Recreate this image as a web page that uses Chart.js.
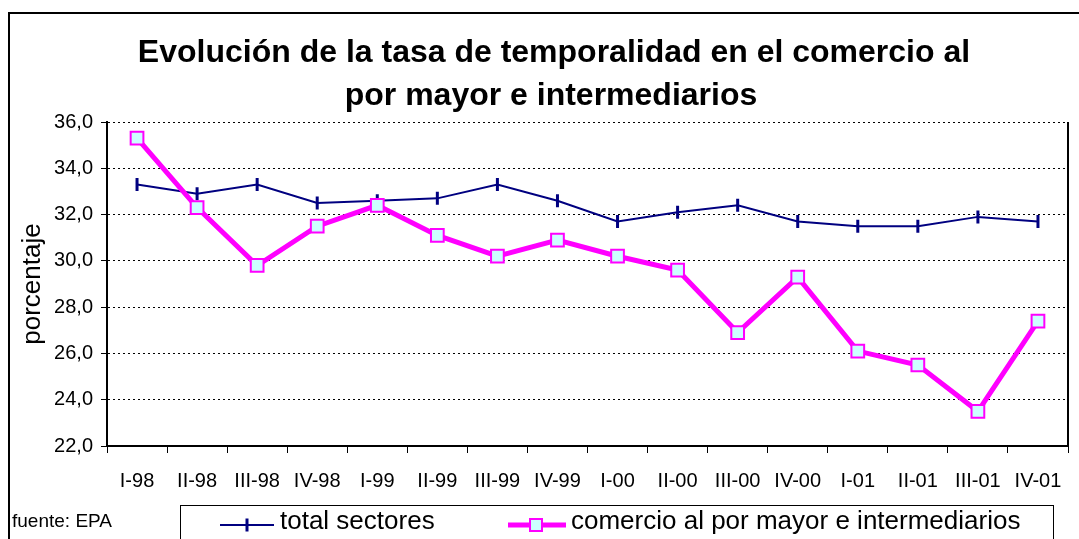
<!DOCTYPE html>
<html>
<head>
<meta charset="utf-8">
<script src="https://cdn.jsdelivr.net/npm/chart.js@4/dist/chart.umd.min.js"></script>
<style>
  html, body { margin: 0; padding: 0; background: #fff; }
  canvas { display: block; }
</style>
</head>
<body>
<canvas id="chart" width="1079" height="539"></canvas>
<script>
const FONT = '"Liberation Sans", Arial, sans-serif';

const quarters = ["I-98", "II-98", "III-98", "IV-98", "I-99", "II-99", "III-99", "IV-99",
    "I-00", "II-00", "III-00", "IV-00", "I-01", "II-01", "III-01", "IV-01"];
const totalSectores = [33.3, 32.9, 33.3, 32.5, 32.6, 32.7, 33.3, 32.6,
    31.7, 32.1, 32.4, 31.7, 31.5, 31.5, 31.9, 31.7];
const comercio = [35.3, 32.3, 29.8, 31.5, 32.4, 31.1, 30.2, 30.9,
    30.2, 29.6, 26.9, 29.3, 26.1, 25.5, 23.5, 27.4];
const titleLines = ["Evolución de la tasa de temporalidad en el comercio al", "por mayor e intermediarios"];
const seriesNames = ["total sectores", "comercio al por mayor e intermediarios"];
const sourceNote = "fuente: EPA";

// title, legend box, source note and frames
const decorPlugin = {
    id: 'decor',
    afterDraw(chart) {
        const ctx = chart.ctx;
        const area = chart.chartArea;
        ctx.save();

        // outer frame
        ctx.strokeStyle = '#000';
        ctx.lineWidth = 2;
        ctx.strokeRect(9, 13, 1080, 540);

        // right edge of plot area
        ctx.beginPath();
        ctx.moveTo(area.right, area.top);
        ctx.lineTo(area.right, area.bottom);
        ctx.stroke();

        // title
        ctx.fillStyle = '#000';
        ctx.font = 'bold 32px ' + FONT;
        ctx.textAlign = 'center';
        ctx.textBaseline = 'middle';
        ctx.fillText(titleLines[0], 554, 53);
        ctx.fillText(titleLines[1], 551, 96);

        // source
        const ly = 522;
        ctx.font = '19px ' + FONT;
        ctx.textAlign = 'left';
        ctx.fillText(sourceNote, 12, ly);

        // legend box
        ctx.lineWidth = 1;
        ctx.strokeRect(180.5, 505.5, 873, 60);
        ctx.font = '26px ' + FONT;
        const ds = chart.data.datasets;

        ctx.strokeStyle = ds[0].borderColor;
        ctx.lineWidth = ds[0].borderWidth;
        ctx.beginPath();
        ctx.moveTo(220, ly + 3);
        ctx.lineTo(274, ly + 3);
        ctx.stroke();
        ctx.lineWidth = ds[0].pointBorderWidth;
        ctx.beginPath();
        ctx.moveTo(247, ly + 3 - 6.5);
        ctx.lineTo(247, ly + 3 + 6.5);
        ctx.stroke();
        ctx.fillText(ds[0].label, 280, ly);

        ctx.strokeStyle = ds[1].borderColor;
        ctx.lineWidth = ds[1].borderWidth;
        ctx.beginPath();
        ctx.moveTo(508, ly + 3);
        ctx.lineTo(566, ly + 3);
        ctx.stroke();
        ctx.fillStyle = ds[1].pointBackgroundColor;
        ctx.strokeStyle = ds[1].pointBorderColor;
        ctx.lineWidth = ds[1].pointBorderWidth;
        ctx.fillRect(530, ly - 3, 12, 12);
        ctx.strokeRect(530, ly - 3, 12, 12);
        ctx.fillStyle = '#000';
        ctx.fillText(ds[1].label, 571, ly);

        ctx.restore();
    }
};

const ctx = document.getElementById('chart').getContext('2d');
const chart = new Chart(ctx, {
    type: 'line',
    data: {
        labels: quarters,
        datasets: [{
            label: seriesNames[0],
            data: totalSectores,
            borderColor: '#000080',
            borderWidth: 2,
            pointStyle: 'line',
            pointRotation: 90,
            pointRadius: 6.5,
            pointBorderWidth: 3,
            pointBorderColor: '#000080',
            pointHoverRadius: 6.5,
            order: 1
        }, {
            label: seriesNames[1],
            data: comercio,
            borderColor: '#FF00FF',
            borderWidth: 5,
            pointStyle: 'rect',
            pointRadius: 9,
            pointHoverRadius: 9,
            pointBackgroundColor: '#CCFFFF',
            pointBorderColor: '#FF00FF',
            pointBorderWidth: 2,
            order: 0
        }]
    },
    options: {
        responsive: false,
        animation: false,
        layout: {
            padding: { left: 0, top: 122, right: 8, bottom: 0 }
        },
        plugins: {
            legend: { display: false },
            title: { display: false },
            tooltip: { enabled: false }
        },
        scales: {
            x: {
                offset: true,
                afterFit: s => { s.height = 93; },
                grid: {
                    offset: true,
                    drawOnChartArea: false,
                    drawTicks: true,
                    tickLength: 7,
                    tickColor: '#000',
                    tickWidth: 1
                },
                border: { color: '#000', width: 2 },
                ticks: {
                    color: '#000',
                    font: { family: FONT, size: 20 },
                    padding: 16,
                    maxRotation: 0,
                    autoSkip: false
                }
            },
            y: {
                min: 22,
                max: 36,
                afterFit: s => { s.width = 107; },
                grid: {
                    color: '#000',
                    lineWidth: 1,
                    tickLength: 6,
                    tickColor: '#000',
                    tickBorderDash: []
                },
                border: { color: '#000', width: 2, dash: [2, 3] },
                title: {
                    display: true,
                    text: 'porcentaje',
                    color: '#000',
                    font: { family: FONT, size: 26 },
                    padding: { top: 17, bottom: 0 }
                },
                ticks: {
                    stepSize: 2,
                    color: '#000',
                    padding: 8,
                    font: { family: FONT, size: 20 },
                    callback: v => v.toFixed(1).replace('.', ',')
                }
            }
        }
    },
    plugins: [decorPlugin]
});
</script>
</body>
</html>
